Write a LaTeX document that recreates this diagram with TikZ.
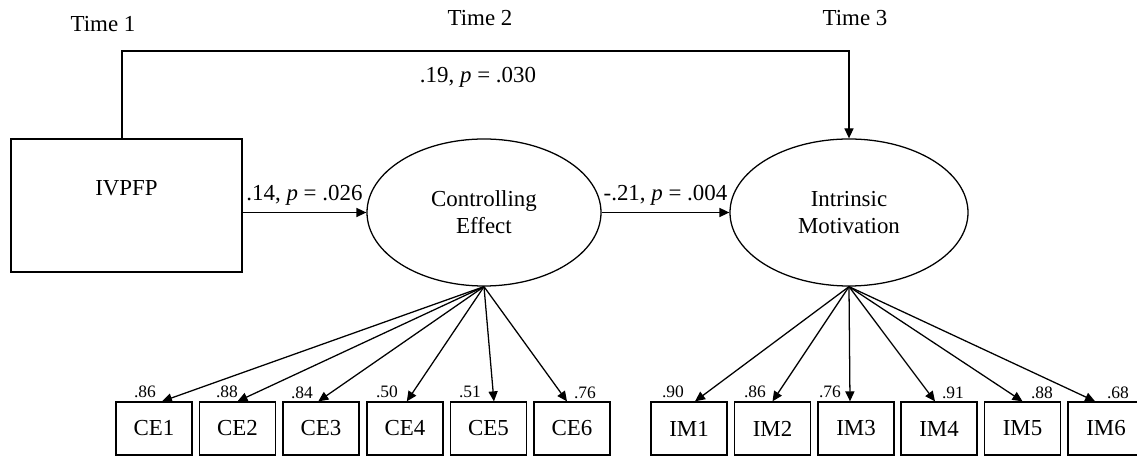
\documentclass[tikz,border=0pt]{standalone}
\usepackage{fontspec}
\setmainfont{Liberation Serif}
\usetikzlibrary{shapes.geometric,arrows.meta}
\begin{document}
\begin{tikzpicture}[x=0.55pt, y=-0.55pt, line width=0.7pt,
  font=\fontsize{12.6}{15}\selectfont,
  obs/.style={draw, rectangle, inner sep=0pt, minimum width=41.8pt, minimum height=29.15pt},
  lat/.style={draw, ellipse, align=center, inner sep=0pt, minimum height=80.85pt},
  arr/.style={-{Triangle[length=5.5pt,width=5pt]}},
  wt/.style={font=\fontsize{9.6}{11.5}\selectfont, inner sep=0pt}]
\path[use as bounding box, clip] (0,0) rectangle (1137,456);
\node (t1) at (103,24) {Time 1};
\node (t2) at (480,18) {Time 2};
\node (t3) at (855,18) {Time 3};
\node[draw, rectangle, minimum width=127pt, minimum height=73.15pt, label={[yshift=9.6pt]center:IVPFP}] (ivpfp) at (126.5,205.5) {};
\node[lat, minimum width=128.7pt] (ce) at (484,212.5) {Controlling\\Effect};
\node[lat, minimum width=130.9pt] (im) at (849,212.5) {Intrinsic\\Motivation};
\coordinate (bend) at (122,51);
\draw[arr] (ivpfp.north -| bend) -- (bend) -| (im.north);
\node (b19) at (478,77) {.19, \textit{p} = .030};
\draw[arr] (ivpfp.east |- ce.west) -- (ce.west) node[midway, above] (b14) {.14, \textit{p} = .026};
\draw[arr] (ce.east) -- (im.west) node[midway, above] (b21) {-.21, \textit{p} = .004};
\node[obs] (ce1) at (154,428.5) {CE1};
\node[obs] (ce2) at (237.5,428.5) {CE2};
\node[obs] (ce3) at (321,428.5) {CE3};
\node[obs] (ce4) at (405,428.5) {CE4};
\node[obs] (ce5) at (488.5,428.5) {CE5};
\node[obs] (ce6) at (572,428.5) {CE6};
\node[obs] (im1) at (689,428.5) {IM1};
\node[obs] (im2) at (772.5,428.5) {IM2};
\node[obs] (im3) at (856,428.5) {IM3};
\node[obs] (im4) at (939,428.5) {IM4};
\node[obs] (im5) at (1022.5,428.5) {IM5};
\node[obs] (im6) at (1106,428.5) {IM6};
\draw[arr] (ce.south) -- ([xshift=4.4pt]ce1.north);
\draw[arr] (ce.south) -- (ce2.north);
\draw[arr] (ce.south) -- ([xshift=-1.5pt]ce3.north);
\draw[arr] (ce.south) -- ([xshift=1pt]ce4.north);
\draw[arr] (ce.south) -- ([xshift=3pt]ce5.north);
\draw[arr] (ce.south) -- ([xshift=-2.75pt]ce6.north);
\draw[arr] (im.south) -- ([xshift=3.3pt]im1.north);
\draw[arr] (im.south) -- (im2.north);
\draw[arr] (im.south) -- ([xshift=-3.3pt]im3.north);
\draw[arr] (im.south) -- ([xshift=-2.2pt]im4.north);
\draw[arr] (im.south) -- (im5.north);
\draw[arr] (im.south) -- ([xshift=-6pt]im6.north);
\node[wt] (wce1) at (145,392) {.86};
\node[wt] (wce2) at (227,392) {.88};
\node[wt] (wce3) at (302,393) {.84};
\node[wt] (wce4) at (387,392) {.50};
\node[wt] (wce5) at (470,392) {.51};
\node[wt] (wce6) at (585,393) {.76};
\node[wt] (wim1) at (673,392) {.90};
\node[wt] (wim2) at (755,392) {.86};
\node[wt] (wim3) at (830,392) {.76};
\node[wt] (wim4) at (953,393) {.91};
\node[wt] (wim5) at (1042,393) {.88};
\node[wt] (wim6) at (1118,393) {.68};
\end{tikzpicture}
\end{document}
